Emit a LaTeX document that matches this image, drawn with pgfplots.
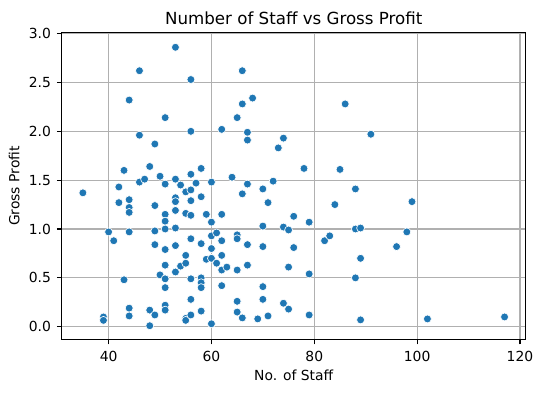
\documentclass[border=0pt]{standalone}
\usepackage{fontspec}
\setmainfont{DejaVu Sans}
\usepackage{pgfplots}
\pgfplotsset{compat=1.18}
\definecolor{c1}{HTML}{1F77B4}
\definecolor{gridc}{HTML}{B0B0B0}
\begin{document}
\begin{tikzpicture}
\begin{axis}[name=ax, scale only axis, width=334pt, height=220.9pt,
  xmin=30.9, xmax=121.1, ymin=-0.13, ymax=3.01,
  xtick={40,60,80,100,120}, ytick={0,0.5,1,1.5,2,2.5,3},
  yticklabel style={xshift=-0.8pt, /pgf/number format/.cd, fixed, fixed zerofill, precision=1},
  /pgf/number format/assume math mode=true,
  tick label style={font=\fontsize{10}{12}\selectfont},
  xticklabel style={anchor=base, yshift=-12.3pt},
  tick align=outside, major tick length=3.5pt,
  tick style={black, line width=0.8pt},
  xtick pos=left, ytick pos=left,
  grid=major, grid style={color=gridc, line width=0.8pt},
  axis line style={line width=0.8pt},
  axis on top,
  title={Number of Staff vs Gross Profit},
  title style={font=\fontsize{12}{14}\selectfont, at={([yshift=-0.4pt]axis description cs:0.5,1)}, anchor=base},
  xlabel={No. of Staff}, ylabel={Gross Profit},
  label style={font=\fontsize{10}{12}\selectfont},
  xlabel style={at={([yshift=-29.5pt]axis description cs:0.5,0)}, anchor=base},
  ylabel style={at={([xshift=-30.5pt]axis description cs:0,0.5)}, anchor=base},
]
\addplot[only marks, mark=*, mark size=2.85pt, mark options={fill=c1, draw=white, line width=0.45pt}] table {
x y
35 1.37
39 0.10
39 0.065
40 0.97
41 0.88
42 1.43
42 1.27
43 1.60
43 0.48
44 2.32
44 1.30
44 1.22
44 1.17
44 0.97
44 0.19
44 0.11
46 2.62
46 1.96
46 1.48
47 1.51
48 1.64
48 0.17
48 0.01
49 1.87
49 1.24
49 0.98
49 0.84
49 0.12
50 1.54
50 0.53
51 2.14
51 1.46
51 1.15
51 1.08
51 1.00
51 0.79
51 0.63
51 0.49
51 0.40
51 0.22
51 0.17
53 2.86
53 1.51
53 1.32
53 1.28
53 1.19
53 1.01
53 0.83
53 0.56
54 1.45
54 0.62
55 1.38
55 1.16
55 0.73
55 0.65
55 0.085
55 0.065
56 2.53
56 2.00
56 1.56
56 1.40
56 1.29
56 1.14
56 0.90
56 0.49
56 0.28
56 0.12
57 1.47
58 1.62
58 1.33
58 0.85
58 0.50
58 0.45
58 0.40
58 0.16
59 1.15
59 0.69
60 1.48
60 1.07
60 0.93
60 0.80
60 0.70
60 0.03
61 0.96
61 0.65
62 2.02
62 1.15
62 0.88
62 0.73
62 0.58
62 0.42
63 0.61
64 1.53
65 2.14
65 0.94
65 0.90
65 0.58
65 0.26
65 0.15
66 2.62
66 2.28
66 1.36
66 0.09
67 1.99
67 1.91
67 1.46
67 0.84
67 0.63
68 2.34
69 0.08
70 1.41
70 1.03
70 0.82
70 0.41
70 0.28
71 1.27
71 0.11
72 1.49
73 1.83
74 1.93
74 1.02
74 0.24
75 0.99
75 0.61
75 0.18
76 1.13
76 0.81
78 1.62
79 1.07
79 0.54
79 0.12
82 0.88
83 0.93
84 1.25
85 1.61
86 2.28
88 1.41
88 1.00
88 0.50
89 1.01
89 0.70
89 0.07
91 1.97
96 0.82
98 0.97
99 1.28
102 0.08
117 0.10
};
\end{axis}
\pgfresetboundingbox
\path[use as bounding box] ([shift={(-44.5pt,-38.5pt)}]ax.south west) rectangle ([shift={(12.5pt,23.5pt)}]ax.north east);
\end{tikzpicture}
\end{document}
